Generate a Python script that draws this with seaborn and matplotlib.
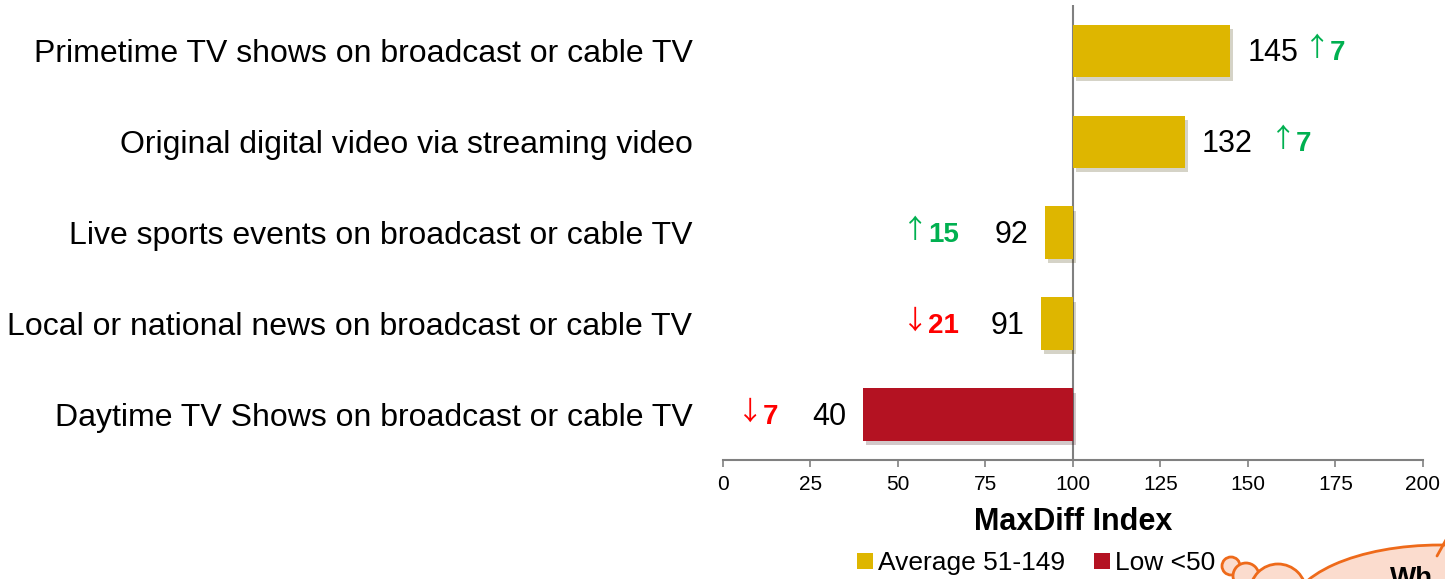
import matplotlib
matplotlib.use("Agg")
import matplotlib.pyplot as plt
import matplotlib.patheffects as pe
from matplotlib.patches import Ellipse, Circle, Patch
import seaborn as sns

categories = [
    "Primetime TV shows on broadcast or cable TV",
    "Original digital video via streaming video",
    "Live sports events on broadcast or cable TV",
    "Local or national news on broadcast or cable TV",
    "Daytime TV Shows on broadcast or cable TV",
]
index_values = [145, 132, 92, 91, 40]
change_values = [7, 7, 15, -21, -7]
groups = ["Average 51-149"] * 4 + ["Low <50"]
group_names = ["Average 51-149", "Low <50"]
x_ticks = [0, 25, 50, 75, 100, 125, 150, 175, 200]

# where the change labels (number part) start, in x-data units
change_label_x = [173.4, 163.7, 58.6, 58.6, 11.4]

palette = {"Average 51-149": "#DEB600", "Low <50": "#B41222"}
GREEN, RED, GREY = "#00B050", "#FF0000", "#808080"

sns.set_style("white")
plt.rcParams["font.family"] = ["Liberation Sans", "DejaVu Sans"]
plt.rcParams.update({"text.color": "black", "axes.labelcolor": "black",
                     "xtick.labelcolor": "black", "ytick.labelcolor": "black"})

fig = plt.figure(figsize=(14.45, 5.79), dpi=100)
ax = fig.add_axes([0.5003, 0.2055, 0.4844, 0.7855])

sns.barplot(x=index_values, y=categories, hue=groups, palette=palette,
            dodge=False, width=0.575, saturation=1, legend=False, ax=ax)

# bars grow out of the 100 baseline
for p in ax.patches:
    i = int(round(p.get_y() + p.get_height() / 2))
    p.set_x(100)
    p.set_width(index_values[i] - 100)
    p.set_linewidth(0)
    p.set_path_effects([pe.SimplePatchShadow(offset=(2, -3), alpha=0.22), pe.Normal()])

ax.set_xlim(0, 200)
ax.set_ylim(4.5, -0.5)
ax.axvline(100, color=GREY, lw=1.5, zorder=0)
ax.set_xticks(x_ticks)
ax.tick_params(axis="x", direction="out", length=5, width=1.2, color=GREY,
               labelsize=15, pad=6, bottom=True)
ax.tick_params(axis="y", length=0, labelsize=23, pad=22)
sns.despine(ax=ax, left=True)
ax.spines["bottom"].set_color(GREY)
ax.spines["bottom"].set_linewidth(1.5)
ax.set_ylabel("")
ax.set_xlabel("MaxDiff Index", fontsize=22, fontweight="bold", labelpad=9)

for i, v in enumerate(index_values):
    if v >= 100:
        ax.annotate(str(v), (v, i), xytext=(17, -2), textcoords="offset pixels",
                    ha="left", va="center", fontsize=22)
    else:
        ax.annotate(str(v), (v, i), xytext=(-17, -2), textcoords="offset pixels",
                    ha="right", va="center", fontsize=22)
    c = change_values[i]
    col = GREEN if c > 0 else RED
    arrow = "\u2191" if c > 0 else "\u2193"
    ax.annotate(str(abs(c)), (change_label_x[i], i), xytext=(0, -2),
                textcoords="offset pixels", ha="left", va="center",
                fontsize=20, fontweight="bold", color=col)
    ax.annotate(arrow, (change_label_x[i], i), xytext=(0, 2),
                textcoords="offset pixels", ha="right", va="center",
                fontsize=19, color=col,
                family=["Noto Sans CJK JP", "DejaVu Sans"])

handles = [Patch(facecolor=palette[g], edgecolor="none") for g in group_names]
fig.legend(handles, group_names, loc="center", bbox_to_anchor=(0.717, 0.027),
           ncol=2, frameon=False, fontsize=19, handlelength=0.6,
           handleheight=0.6, handletextpad=0.2, columnspacing=1.1)

# partial thought-cloud callout in the lower right corner
deco = fig.add_axes([0, 0, 1, 1], zorder=5)
deco.set_xlim(0, 1445)
deco.set_ylim(579, 0)
deco.axis("off")
deco.patch.set_alpha(0)
fill, edge = "#FBDCCE", "#EE6A1A"
deco.add_patch(Circle((1231, 566), 9, fc=fill, ec=edge, lw=2))
deco.add_patch(Circle((1246, 576), 13, fc=fill, ec=edge, lw=2))
deco.add_patch(Circle((1278, 592), 28, fc=fill, ec=edge, lw=2))
deco.plot([1437, 1447], [556, 538], color=edge, lw=2)
deco.add_patch(Ellipse((1440, 612), 300, 134, fc=fill, ec=edge, lw=2))
deco.text(1390, 566, "Wh", fontsize=20, fontweight="bold", va="top", ha="left")

fig.savefig("out.png", dpi=100)
